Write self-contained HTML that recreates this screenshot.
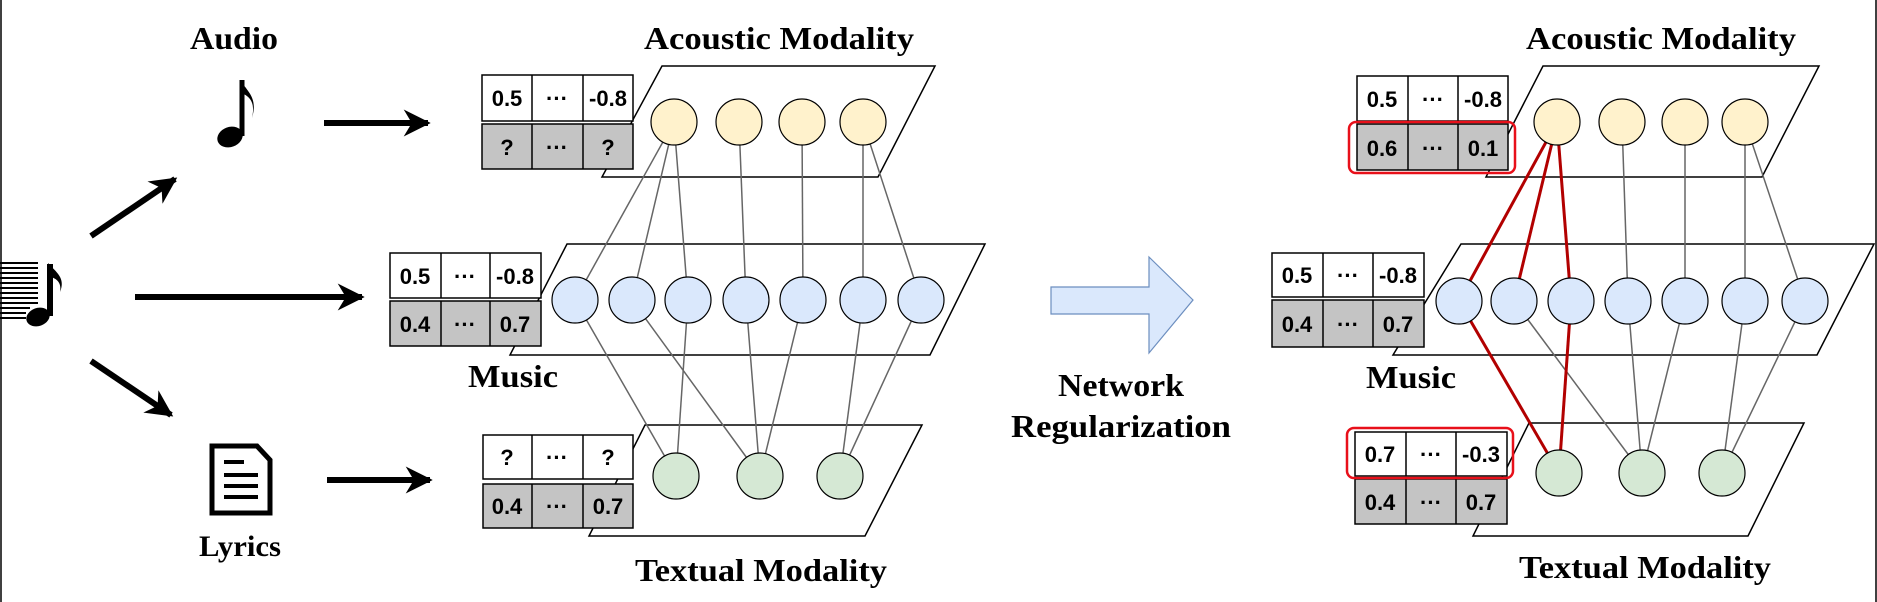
<!DOCTYPE html>
<html><head><meta charset="utf-8"><style>
html,body{margin:0;padding:0;background:#fff;}
svg{display:block;}
.t{font-family:"Liberation Serif",serif;font-weight:bold;fill:#000;}
.c{font-family:"Liberation Sans",sans-serif;font-weight:bold;font-size:22px;fill:#000;}
</style></head><body>
<svg width="1877" height="602" viewBox="0 0 1877 602" xmlns="http://www.w3.org/2000/svg">
<defs>
<marker id="ah" viewBox="0 0 10 10" refX="9" refY="5" markerWidth="4.5" markerHeight="4.5" orient="auto"><path d="M0,0 L10,5 L0,10 L3,5 z" fill="#000"/></marker>
</defs>
<line x1="1" y1="0" x2="1" y2="602" stroke="#000" stroke-width="1.5"/>
<line x1="1876" y1="0" x2="1876" y2="602" stroke="#000" stroke-width="1.5"/>

<text class="t" x="234" y="49" font-size="32" text-anchor="middle" textLength="88" lengthAdjust="spacingAndGlyphs">Audio</text>
<g>
<line x1="242" y1="80" x2="242" y2="136" stroke="#000" stroke-width="5"/>
<path d="M240,80 C248,92 258,98 252,118 C256,100 248,96 240,92 z" fill="#000"/>
<ellipse cx="230" cy="137" rx="13" ry="10" fill="#000" transform="rotate(-20 230 137)"/>
</g>
<g stroke="#000" stroke-width="2">
<line x1="0" y1="263" x2="38" y2="263"/><line x1="0" y1="268" x2="38" y2="268"/>
<line x1="0" y1="273" x2="38" y2="273"/><line x1="0" y1="278" x2="38" y2="278"/>
<line x1="0" y1="283" x2="38" y2="283"/><line x1="0" y1="288" x2="38" y2="288"/>
<line x1="0" y1="293" x2="38" y2="293"/><line x1="0" y1="298" x2="38" y2="298"/>
<line x1="0" y1="303" x2="38" y2="303"/><line x1="0" y1="308" x2="30" y2="308"/>
<line x1="0" y1="313" x2="26" y2="313"/><line x1="0" y1="318" x2="26" y2="318"/>
</g>
<line x1="50" y1="264" x2="50" y2="316" stroke="#000" stroke-width="6"/>
<path d="M48,263 C56,272 66,278 60,292 C62,282 56,278 48,276 z" fill="#000"/>
<ellipse cx="38" cy="317" rx="12" ry="9" fill="#000" transform="rotate(-20 38 317)"/>

<path d="M212,446 L257,446 L270,460 L270,513 L212,513 z" fill="#fff" stroke="#000" stroke-width="5"/>
<line x1="224" y1="462" x2="244" y2="462" stroke="#000" stroke-width="4"/>
<line x1="224" y1="475" x2="258" y2="475" stroke="#000" stroke-width="4"/>
<line x1="224" y1="486" x2="258" y2="486" stroke="#000" stroke-width="4"/>
<line x1="224" y1="497" x2="258" y2="497" stroke="#000" stroke-width="4"/>
<text class="t" x="240" y="556" font-size="30" text-anchor="middle" textLength="82" lengthAdjust="spacingAndGlyphs">Lyrics</text>

<g stroke="#000" stroke-width="6" marker-end="url(#ah)">
<line x1="324" y1="123" x2="428" y2="123"/>
<line x1="91" y1="236" x2="175" y2="179"/>
<line x1="135" y1="297" x2="362" y2="297"/>
<line x1="91" y1="361" x2="171" y2="415"/>
<line x1="327" y1="480" x2="430" y2="480"/>
</g>

<polygon points="662,66 935,66 878,177 602,177" fill="#fff" stroke="#000" stroke-width="1.5"/>
<polygon points="567,244 985,244 930,355 510,355" fill="#fff" stroke="#000" stroke-width="1.5"/>
<polygon points="645,425 922,425 865,536 589,536" fill="#fff" stroke="#000" stroke-width="1.5"/>
<g stroke="#666" stroke-width="1.5">
<line x1="674" y1="122" x2="575" y2="300"/><line x1="674" y1="122" x2="632" y2="300"/><line x1="674" y1="122" x2="688" y2="300"/>
<line x1="739" y1="122" x2="746" y2="300"/><line x1="802" y1="122" x2="803" y2="300"/>
<line x1="863" y1="122" x2="863" y2="300"/><line x1="863" y1="122" x2="921" y2="300"/>
<line x1="575" y1="300" x2="676" y2="476"/><line x1="632" y1="300" x2="760" y2="476"/>
<line x1="688" y1="300" x2="676" y2="476"/><line x1="746" y1="300" x2="760" y2="476"/>
<line x1="803" y1="300" x2="760" y2="476"/><line x1="863" y1="300" x2="840" y2="476"/>
<line x1="921" y1="300" x2="840" y2="476"/>
</g>
<g stroke="#000" stroke-width="1.2">
<g fill="#fff2cc"><circle cx="674" cy="122" r="23"/><circle cx="739" cy="122" r="23"/><circle cx="802" cy="122" r="23"/><circle cx="863" cy="122" r="23"/></g>
<g fill="#dae8fc"><circle cx="575" cy="300" r="23"/><circle cx="632" cy="300" r="23"/><circle cx="688" cy="300" r="23"/><circle cx="746" cy="300" r="23"/><circle cx="803" cy="300" r="23"/><circle cx="863" cy="300" r="23"/><circle cx="921" cy="300" r="23"/></g>
<g fill="#d5e8d4"><circle cx="676" cy="476" r="23"/><circle cx="760" cy="476" r="23"/><circle cx="840" cy="476" r="23"/></g>
</g>
<g stroke="#000" stroke-width="1.5">
<rect x="482" y="75" width="151" height="46" fill="#fff"/><line x1="532" y1="75" x2="532" y2="121"/><line x1="583" y1="75" x2="583" y2="121"/>
<rect x="482" y="124" width="151" height="45" fill="#c4c4c4"/><line x1="532" y1="124" x2="532" y2="169"/><line x1="583" y1="124" x2="583" y2="169"/>
<rect x="390" y="253" width="151" height="45" fill="#fff"/><line x1="441" y1="253" x2="441" y2="298"/><line x1="490" y1="253" x2="490" y2="298"/>
<rect x="390" y="301" width="151" height="45" fill="#c4c4c4"/><line x1="441" y1="301" x2="441" y2="346"/><line x1="490" y1="301" x2="490" y2="346"/>
<rect x="483" y="435" width="150" height="44" fill="#fff"/><line x1="532" y1="435" x2="532" y2="479"/><line x1="583" y1="435" x2="583" y2="479"/>
<rect x="483" y="484" width="150" height="44" fill="#c4c4c4"/><line x1="532" y1="484" x2="532" y2="528"/><line x1="583" y1="484" x2="583" y2="528"/>
</g>
<g class="c" text-anchor="middle">
<text x="507" y="106">0.5</text><text x="557" y="106">···</text><text x="608" y="106">-0.8</text>
<text x="507" y="155">?</text><text x="557" y="155">···</text><text x="608" y="155">?</text>
<text x="415" y="284">0.5</text><text x="465" y="284">···</text><text x="515" y="284">-0.8</text>
<text x="415" y="332">0.4</text><text x="465" y="332">···</text><text x="515" y="332">0.7</text>
<text x="507" y="465">?</text><text x="557" y="465">···</text><text x="608" y="465">?</text>
<text x="507" y="514">0.4</text><text x="557" y="514">···</text><text x="608" y="514">0.7</text>
</g>
<text class="t" x="779" y="49" font-size="32" text-anchor="middle" textLength="270" lengthAdjust="spacingAndGlyphs">Acoustic Modality</text>
<text class="t" x="513" y="387" font-size="32" text-anchor="middle" textLength="90" lengthAdjust="spacingAndGlyphs">Music</text>
<text class="t" x="761" y="581" font-size="32" text-anchor="middle" textLength="252" lengthAdjust="spacingAndGlyphs">Textual Modality</text>

<path d="M1051,287 L1149,287 L1149,257 L1193,300 L1149,353 L1149,314 L1051,314 z" fill="#dae8fc" stroke="#6c8ebf" stroke-width="1.2"/>
<text class="t" x="1121" y="396" font-size="32" text-anchor="middle" textLength="126" lengthAdjust="spacingAndGlyphs">Network</text>
<text class="t" x="1121" y="437" font-size="32" text-anchor="middle" textLength="220" lengthAdjust="spacingAndGlyphs">Regularization</text>

<polygon points="1543,66 1819,66 1762,177 1486,177" fill="#fff" stroke="#000" stroke-width="1.5"/>
<polygon points="1461,244 1874,244 1817,355 1393,355" fill="#fff" stroke="#000" stroke-width="1.5"/>
<polygon points="1529,423 1804,423 1748,536 1473,536" fill="#fff" stroke="#000" stroke-width="1.5"/>
<g stroke="#666" stroke-width="1.5">
<line x1="1622" y1="122" x2="1628" y2="301"/><line x1="1685" y1="122" x2="1685" y2="301"/>
<line x1="1745" y1="122" x2="1745" y2="301"/><line x1="1745" y1="122" x2="1805" y2="301"/>
<line x1="1514" y1="301" x2="1642" y2="473"/><line x1="1628" y1="301" x2="1642" y2="473"/>
<line x1="1685" y1="301" x2="1642" y2="473"/><line x1="1745" y1="301" x2="1722" y2="473"/>
<line x1="1805" y1="301" x2="1722" y2="473"/>
</g>
<g stroke="#b20000" stroke-width="3">
<line x1="1557" y1="122" x2="1459" y2="301"/><line x1="1557" y1="122" x2="1514" y2="301"/><line x1="1557" y1="122" x2="1571" y2="301"/>
<line x1="1459" y1="301" x2="1559" y2="473"/><line x1="1571" y1="301" x2="1559" y2="473"/>
</g>
<g stroke="#000" stroke-width="1.2">
<g fill="#fff2cc"><circle cx="1557" cy="122" r="23"/><circle cx="1622" cy="122" r="23"/><circle cx="1685" cy="122" r="23"/><circle cx="1745" cy="122" r="23"/></g>
<g fill="#dae8fc"><circle cx="1459" cy="301" r="23"/><circle cx="1514" cy="301" r="23"/><circle cx="1571" cy="301" r="23"/><circle cx="1628" cy="301" r="23"/><circle cx="1685" cy="301" r="23"/><circle cx="1745" cy="301" r="23"/><circle cx="1805" cy="301" r="23"/></g>
<g fill="#d5e8d4"><circle cx="1559" cy="473" r="23"/><circle cx="1642" cy="473" r="23"/><circle cx="1722" cy="473" r="23"/></g>
</g>
<g stroke="#000" stroke-width="1.5">
<rect x="1357" y="76" width="151" height="45" fill="#fff"/><line x1="1408" y1="76" x2="1408" y2="121"/><line x1="1458" y1="76" x2="1458" y2="121"/>
<rect x="1357" y="124" width="151" height="46" fill="#c4c4c4"/><line x1="1408" y1="124" x2="1408" y2="170"/><line x1="1458" y1="124" x2="1458" y2="170"/>
<rect x="1272" y="253" width="152" height="44" fill="#fff"/><line x1="1323" y1="253" x2="1323" y2="297"/><line x1="1373" y1="253" x2="1373" y2="297"/>
<rect x="1272" y="300" width="152" height="47" fill="#c4c4c4"/><line x1="1323" y1="300" x2="1323" y2="347"/><line x1="1373" y1="300" x2="1373" y2="347"/>
<rect x="1355" y="432" width="152" height="44" fill="#fff"/><line x1="1406" y1="432" x2="1406" y2="476"/><line x1="1456" y1="432" x2="1456" y2="476"/>
<rect x="1355" y="479" width="152" height="45" fill="#c4c4c4"/><line x1="1406" y1="479" x2="1406" y2="524"/><line x1="1456" y1="479" x2="1456" y2="524"/>
</g>
<rect x="1349" y="122" width="166" height="51" rx="7" fill="none" stroke="#e8101a" stroke-width="2.5"/>
<rect x="1347" y="428" width="166" height="50" rx="7" fill="none" stroke="#e8101a" stroke-width="2.5"/>
<g class="c" text-anchor="middle">
<text x="1382" y="107">0.5</text><text x="1433" y="107">···</text><text x="1483" y="107">-0.8</text>
<text x="1382" y="156">0.6</text><text x="1433" y="156">···</text><text x="1483" y="156">0.1</text>
<text x="1297" y="283">0.5</text><text x="1348" y="283">···</text><text x="1398" y="283">-0.8</text>
<text x="1297" y="332">0.4</text><text x="1348" y="332">···</text><text x="1398" y="332">0.7</text>
<text x="1380" y="462">0.7</text><text x="1431" y="462">···</text><text x="1481" y="462">-0.3</text>
<text x="1380" y="510">0.4</text><text x="1431" y="510">···</text><text x="1481" y="510">0.7</text>
</g>
<text class="t" x="1661" y="49" font-size="32" text-anchor="middle" textLength="270" lengthAdjust="spacingAndGlyphs">Acoustic Modality</text>
<text class="t" x="1411" y="388" font-size="32" text-anchor="middle" textLength="90" lengthAdjust="spacingAndGlyphs">Music</text>
<text class="t" x="1645" y="578" font-size="32" text-anchor="middle" textLength="252" lengthAdjust="spacingAndGlyphs">Textual Modality</text>
</svg>
</body></html>
